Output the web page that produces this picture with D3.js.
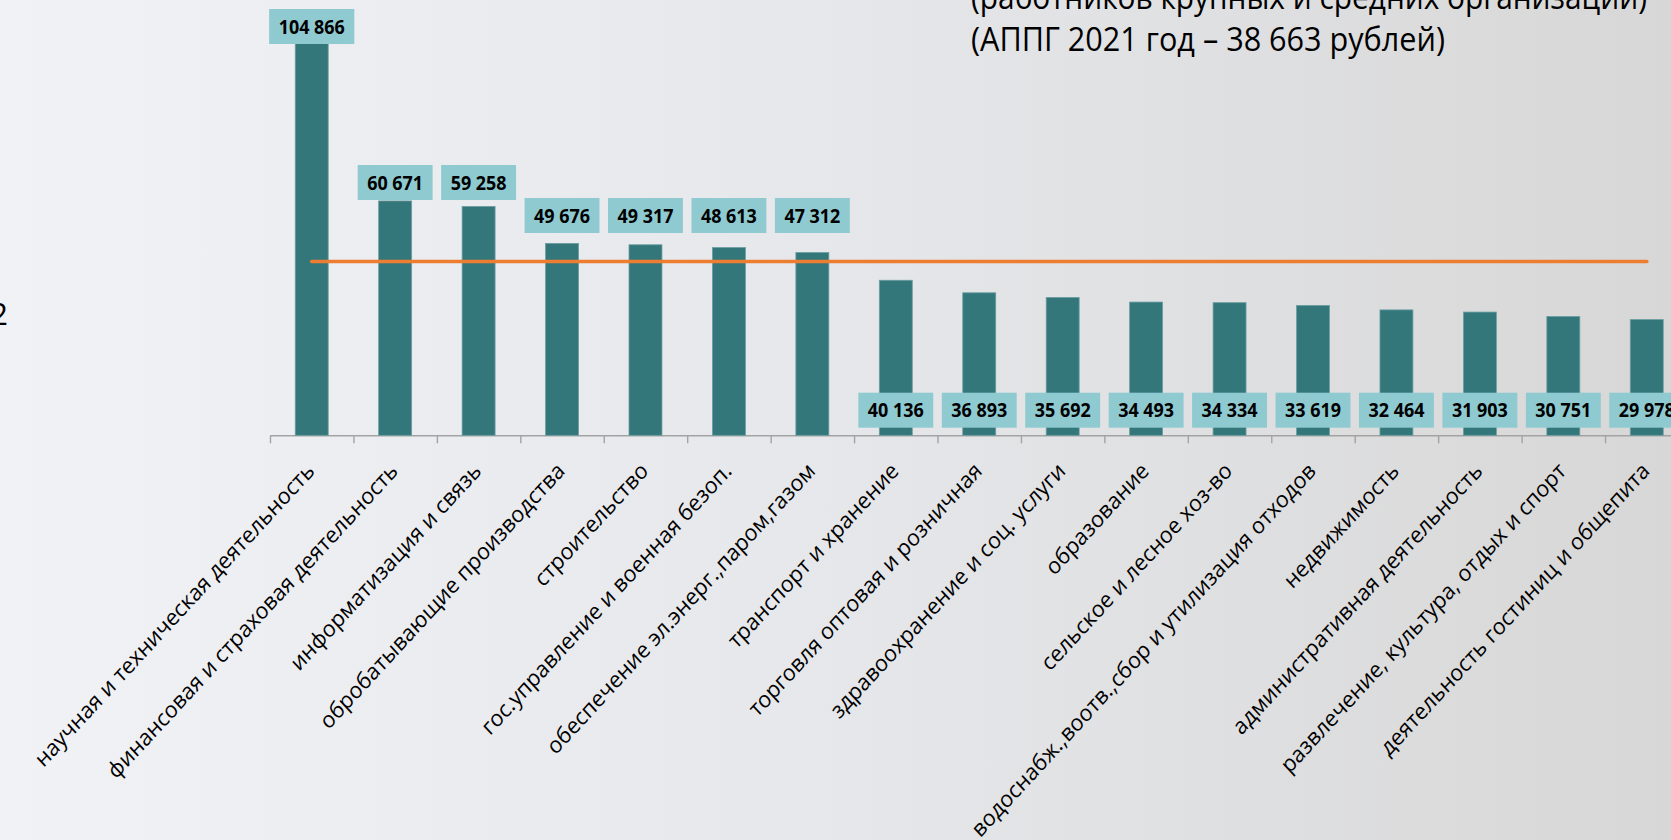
<!DOCTYPE html>
<html>
<head>
<meta charset="utf-8">
<script src="https://cdn.jsdelivr.net/npm/d3@7"></script>
<style>
  html, body { margin: 0; padding: 0; overflow: hidden; }
  svg { display: block; font-family: "Open Sans", "Noto Sans", sans-serif; }
</style>
</head>
<body>
<div id="chart"></div>
<script>
// отрасли (подписи оси X)
const categories = [
    "научная и техническая деятельность",
    "финансовая и страховая деятельность",
    "информатизация и связь",
    "обробатывающие производства",
    "строительство",
    "гос.управление и военная безоп.",
    "обеспечение эл.энерг.,паром,газом",
    "транспорт и хранение",
    "торговля оптовая и розничная",
    "здравоохранение и соц. услуги",
    "образование",
    "сельское и лесное хоз-во",
    "водоснабж.,воотв.,сбор и утилизация отходов",
    "недвижимость",
    "административная деятельность",
    "развлечение,  культура, отдых и спорт",
    "деятельность гостиниц и общепита"
];

// средняя зарплата, рублей
const salaries = [104866, 60671, 59258, 49676, 49317, 48613, 47312, 40136, 36893,
    35692, 34493, 34334, 33619, 32464, 31903, 30751, 29978];

// оранжевая линия - среднее значение
const averageLine = 45000;

const titleLines = [
    "(работников крупных и средних организаций)",
    "(АППГ 2021 год – 38 663 рублей)"
];
const legendText = "2022";

// ряд подписей над столбцами (ручная раскладка как на слайде)
const labelRow = [0, 1, 1, 2, 2, 2, 2];
const rowTop = [9, 165, 198];

const W = 1671, H = 840;
const axisY = 435.3;
const step = 83.44;
const x0 = 270;
const squeeze = 0.92; // слайд немного сжат по горизонтали

const svg = d3.select("#chart").append("svg")
    .attr("width", W)
    .attr("height", H);

// фон
const grad = svg.append("defs").append("linearGradient")
    .attr("id", "bg")
    .attr("x1", "0").attr("y1", "0")
    .attr("x2", "1").attr("y2", "0");
grad.append("stop").attr("offset", "0").attr("stop-color", "#f1f2f6");
grad.append("stop").attr("offset", "0.5").attr("stop-color", "#e6e7ea");
grad.append("stop").attr("offset", "1").attr("stop-color", "#d7d7d7");
svg.append("rect")
    .attr("width", W)
    .attr("height", H)
    .attr("fill", "url(#bg)");

const slot = d3.scaleBand()
    .domain(categories)
    .range([x0, x0 + step * categories.length]);

const y = d3.scaleLinear()
    .domain([0, 120000])
    .range([axisY, axisY - 120000 * 0.003863]);

const barW = slot.bandwidth() * 0.395;
const cx = d => slot(d) + slot.bandwidth() / 2;

// ось
const tickScale = d3.scaleLinear()
    .domain([0, categories.length])
    .range([x0, x0 + step * categories.length]);

const axis = svg.append("g")
    .attr("transform", "translate(0," + axisY + ")")
    .call(d3.axisBottom(tickScale)
        .tickValues(d3.range(categories.length + 1))
        .tickSize(8)
        .tickSizeOuter(0)
        .tickFormat(""));
axis.selectAll("path, line")
    .attr("stroke", "#a3a3a3")
    .attr("stroke-width", 1.4);

// столбцы
svg.append("g")
    .selectAll("rect")
    .data(categories)
    .join("rect")
    .attr("x", d => cx(d) - barW / 2)
    .attr("y", (d, i) => y(salaries[i]))
    .attr("width", barW)
    .attr("height", (d, i) => y(0) - y(salaries[i]))
    .attr("fill", "#33777b")
    .attr("stroke", "#6c9ea1")
    .attr("stroke-width", 0.8);

// линия среднего
svg.append("line")
    .attr("x1", cx(categories[0]))
    .attr("x2", cx(categories[categories.length - 1]))
    .attr("y1", y(averageLine))
    .attr("y2", y(averageLine))
    .attr("stroke", "#ed7d31")
    .attr("stroke-width", 3.6)
    .attr("stroke-linecap", "round");

// подписи значений
const fmt = v => d3.format(",")(v).replace(/,/g, " ");
const boxH = 35;
const lbl = svg.append("g")
    .selectAll("g")
    .data(categories)
    .join("g")
    .attr("transform", (d, i) => {
        const top = i < labelRow.length ? rowTop[labelRow[i]] : axisY - 7.6 - boxH;
        return "translate(" + cx(d) + "," + top + ")";
    });

lbl.append("text")
    .attr("transform", "scale(" + squeeze + ",1)")
    .attr("x", 0)
    .attr("y", boxH / 2)
    .attr("dy", "0.36em")
    .attr("text-anchor", "middle")
    .attr("font-size", 19.5)
    .attr("font-weight", "bold")
    .attr("fill", "#000")
    .text((d, i) => fmt(salaries[i]));

lbl.each(function () {
    const g = d3.select(this);
    const tw = g.select("text").node().getComputedTextLength() * squeeze;
    g.insert("rect", "text")
        .attr("x", -tw / 2 - 9.5)
        .attr("y", 0)
        .attr("width", tw + 19)
        .attr("height", boxH)
        .attr("fill", "#8ecad0");
});

// подписи категорий
svg.append("g")
    .selectAll("text")
    .data(categories)
    .join("text")
    .attr("transform", d => "translate(" + (cx(d) + 4) + "," + (axisY + 37) + ") scale(" + squeeze + ",1) rotate(-45)")
    .attr("text-anchor", "end")
    .attr("font-size", 23)
    .attr("fill", "#000")
    .text(d => d);

// заголовок (обрезан сверху)
const titleWidths = [676, 474];
svg.append("g")
    .selectAll("text")
    .data(titleLines)
    .join("text")
    .attr("x", 971)
    .attr("y", (d, i) => 9 + i * 42)
    .attr("font-size", 33)
    .attr("fill", "#000")
    .attr("textLength", (d, i) => titleWidths[i])
    .attr("lengthAdjust", "spacingAndGlyphs")
    .text(d => d);

// обрезанная легенда слева
svg.append("text")
    .attr("x", 8)
    .attr("y", 325)
    .attr("text-anchor", "end")
    .attr("font-size", 31)
    .attr("fill", "#000")
    .text(legendText);
</script>
</body>
</html>
